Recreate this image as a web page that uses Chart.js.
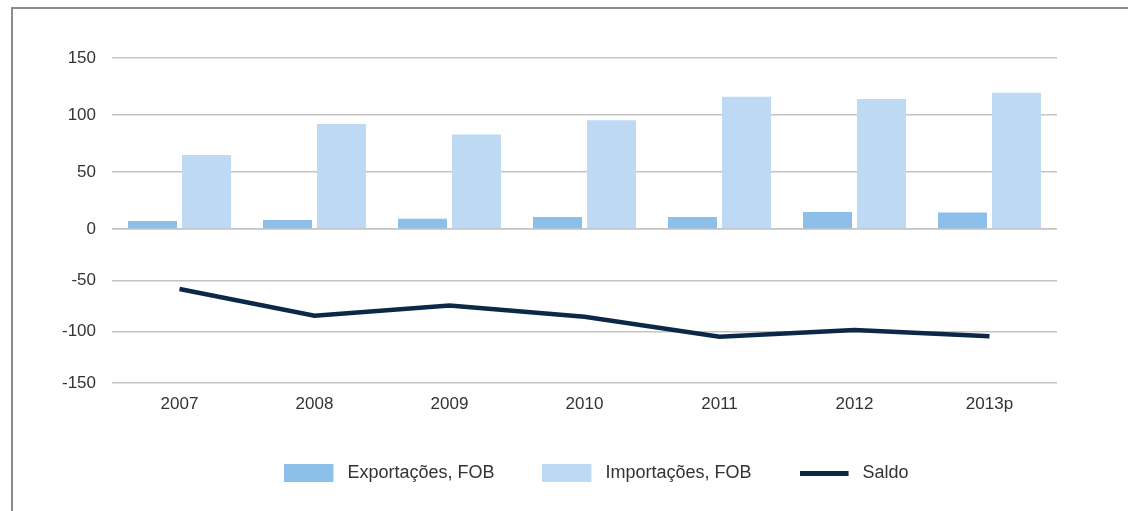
<!DOCTYPE html>
<html>
<head>
<meta charset="utf-8">
<script src="https://cdn.jsdelivr.net/npm/chart.js@4/dist/chart.umd.min.js"></script>
<style>
  html, body { margin: 0; padding: 0; background: #fff; }
  body { width: 1128px; height: 511px; position: relative; overflow: hidden; }
  #frame { position: absolute; left: 11px; top: 7px; width: 1200px; height: 600px;
           border-left: 2px solid #8c8c8c; border-top: 2px solid #8c8c8c; }
  #chart { position: absolute; left: 0; top: 0; }
</style>
</head>
<body>
<div id="frame"></div>
<canvas id="chart" width="1128" height="511"></canvas>
<script>
// ── data ─────────────────────────────────────────────────────────────
const years       = ['2007', '2008', '2009', '2010', '2011', '2012', '2013p'];
const exportacoes = [7, 8, 9, 10.5, 10.5, 15, 14.5];
const importacoes = [65, 92, 83, 95.5, 116, 114, 119.5];
const saldo       = [-58.5, -84.5, -74.5, -85.5, -105, -98.5, -104.5];

const _expClr   = '#8cc0ea';
const _impClr   = '#bed9f3';
const _lineClr  = '#0b2947';
const _gridClr  = '#c4c4c4';
const _lblClr   = '#333333';

Chart.defaults.font.family = "'Liberation Sans', Arial, sans-serif";
Chart.defaults.font.size   = 17;
Chart.defaults.color       = _lblClr;

// legend icons (bar swatch / line stroke)
function icon(color, w, h) {
  const c = document.createElement('canvas');
  c.width = 54; c.height = h;
  const g = c.getContext('2d');
  g.fillStyle = color;
  g.fillRect(0, 0, w, h);
  return c;
}
const icons = [icon(_expClr, 49, 18), icon(_impClr, 49, 18), icon(_lineClr, 49, 5)];

// legend sits a bit right of centre in the original
const shiftLegend = {
  id: 'shiftLegend',
  afterLayout(chart) {
    const lg = chart.legend;
    if (lg) { lg.left += 68; lg.right += 68; }
  }
};

const gridOpts = { color: _gridClr, lineWidth: 1.5, drawTicks: false };

new Chart(document.getElementById('chart'), {
  data: {
    labels: years,
    datasets: [
      { type: 'bar', label: 'Exportações, FOB', data: exportacoes, backgroundColor: _expClr,
        yAxisID: 'y', order: 2, categoryPercentage: 0.8, barPercentage: 0.907 },
      { type: 'bar', label: 'Importações, FOB', data: importacoes, backgroundColor: _impClr,
        yAxisID: 'y', order: 2, categoryPercentage: 0.8, barPercentage: 0.907 },
      { type: 'line', label: 'Saldo', data: saldo, borderColor: _lineClr, backgroundColor: _lineClr,
        borderWidth: 4.5, pointRadius: 0, tension: 0, yAxisID: 'y2', order: 1 }
    ]
  },
  plugins: [shiftLegend],
  options: {
    responsive: false,
    animation: false,
    layout: { padding: { left: 0, right: 71, top: 58, bottom: 19 } },
    plugins: {
      tooltip: { enabled: false },
      legend: {
        position: 'bottom',
        labels: {
          usePointStyle: true,
          pointStyleWidth: 54,
          boxHeight: 18,
          padding: 48,
          color: _lblClr,
          font: { size: 18 },
          generateLabels: chart => chart.data.datasets.map((ds, i) => ({
            text: ds.label,
            pointStyle: icons[i],
            fillStyle: 'transparent',
            strokeStyle: 'transparent',
            lineWidth: 0,
            fontColor: _lblClr,
            hidden: false,
            datasetIndex: i
          }))
        }
      }
    },
    scales: {
      x: {
        grid: { display: false },
        border: { display: false },
        ticks: { padding: 3, color: _lblClr },
        afterFit: s => { s.height = 33; }
      },
      y: {
        stack: 'v', stackWeight: 171, weight: 1,
        min: 0, max: 150,
        ticks: { stepSize: 50, padding: 16, color: _lblClr },
        grid: gridOpts,
        border: { display: false },
        afterFit: s => { s.width = 112; }
      },
      y2: {
        stack: 'v', stackWeight: 154, weight: 0,
        min: -150, max: 0,
        ticks: { stepSize: 50, padding: 16, color: _lblClr,
                 callback: v => (v === 0 ? '' : String(v)) },
        grid: gridOpts,
        border: { display: false },
        afterFit: s => { s.width = 112; }
      }
    }
  }
});
</script>
</body>
</html>
